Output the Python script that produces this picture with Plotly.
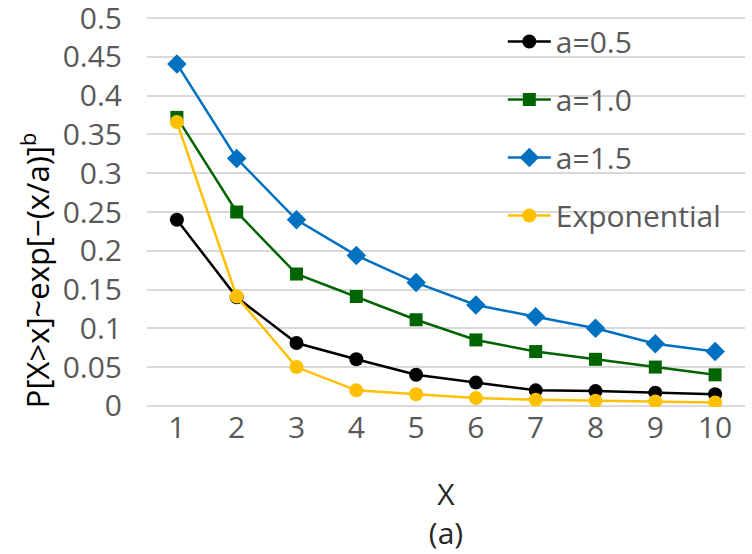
import plotly.graph_objects as go

x_vals = [1, 2, 3, 4, 5, 6, 7, 8, 9, 10]
a05 = [0.240, 0.140, 0.081, 0.060, 0.040, 0.030, 0.020, 0.019, 0.017, 0.015]
a10 = [0.372, 0.250, 0.170, 0.141, 0.111, 0.085, 0.070, 0.060, 0.050, 0.040]
a15 = [0.441, 0.319, 0.240, 0.194, 0.159, 0.130, 0.115, 0.100, 0.080, 0.070]
expo = [0.366, 0.141, 0.050, 0.020, 0.015, 0.010, 0.008, 0.0065, 0.0056, 0.0043]
y_ticks = [0, 0.05, 0.1, 0.15, 0.2, 0.25, 0.3, 0.35, 0.4, 0.45, 0.5]

FONT = "Open Sans"
FS = 30
fig = go.Figure()
series = [
    ("a=0.5", a05, "#000000", "circle", 14),
    ("a=1.0", a10, "#006400", "square", 13),
    ("a=1.5", a15, "#0070C0", "diamond", 15),
    ("Exponential", expo, "#FFC000", "circle", 14),
]
for i, (name, ys, col, sym, sz) in enumerate(series):
    fig.add_trace(go.Scatter(
        x=x_vals, y=ys, name=name, mode="lines+markers",
        legendgroup=f"g{i}",
        line=dict(color=col, width=2.5),
        marker=dict(color=col, symbol=sym, size=sz, line=dict(width=0)),
    ))

fig.update_layout(
    width=752, height=554,
    margin=dict(l=147, r=7, t=17, b=147, autoexpand=False),
    plot_bgcolor="white", paper_bgcolor="white",
    font=dict(family=FONT, size=FS, color="#595959"),
    showlegend=True,
    legend=dict(x=0.595, y=1.004, xanchor="left", yanchor="top",
                tracegroupgap=16, itemwidth=43,
                font=dict(size=FS, color="#595959"),
                bgcolor="rgba(0,0,0,0)"),
    xaxis=dict(range=[0.5, 10.5], tickvals=x_vals, ticktext=[str(v) for v in x_vals],
               showgrid=False, zeroline=False, showline=False, ticks="",
               ticklabeloverflow="allow",
               title=dict(text="X<br>(a)", font=dict(size=FS, color="#262626"), standoff=37)),
    yaxis=dict(range=[-0.0015, 0.5015], tickvals=y_ticks, ticktext=[str(v) for v in y_ticks],
               showgrid=True, gridcolor="#D9D9D9", gridwidth=1.5, zeroline=False,
               showline=False, ticks="", ticklabelstandoff=24,
               ticklabeloverflow="allow"),
)
fig.add_annotation(
    text="P[X>x]~exp[−(x/a)]<sup>b</sup>", textangle=-90,
    xref="paper", yref="paper", x=-0.186, y=0.35,
    xanchor="center", yanchor="middle", showarrow=False,
    font=dict(family=FONT, size=31, color="#000000"),
)
fig.write_html("out.html")
